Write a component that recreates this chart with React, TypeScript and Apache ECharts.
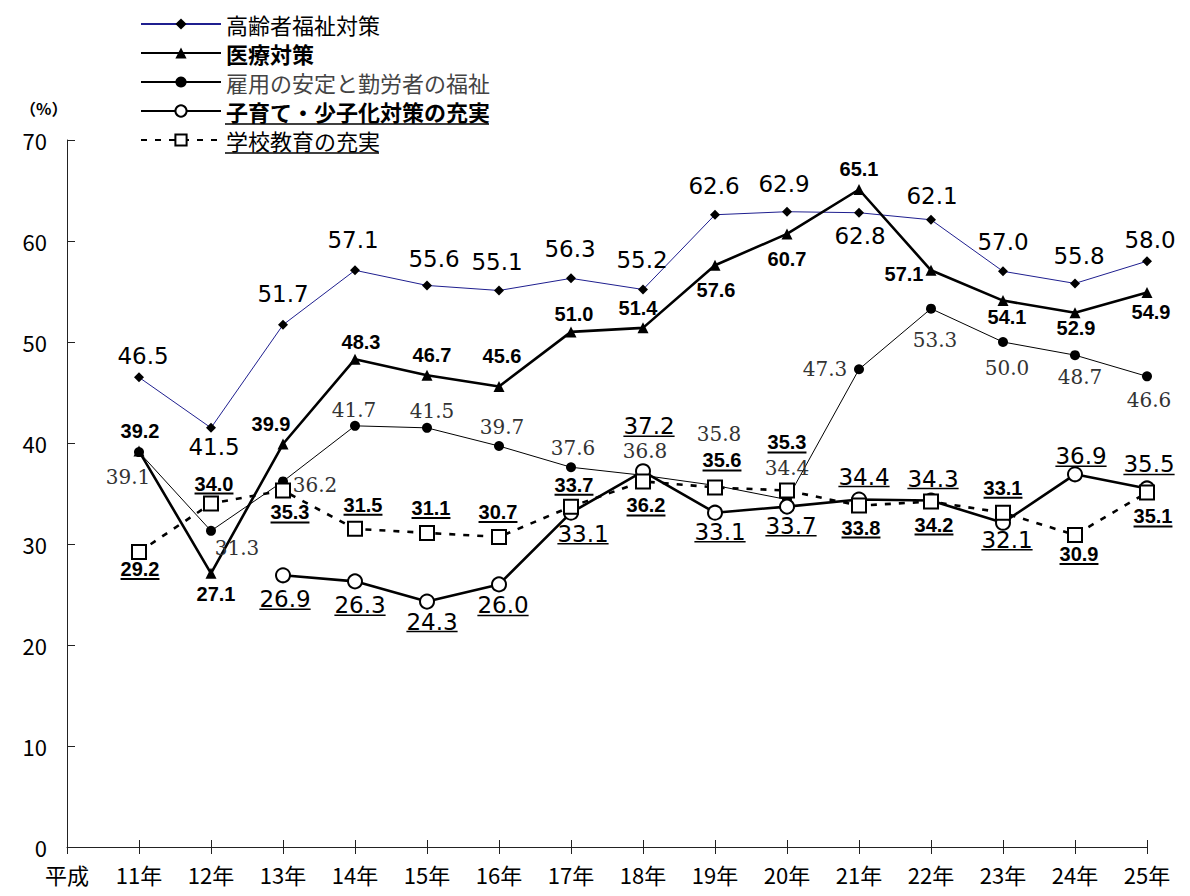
import React, { useEffect, useRef } from "react";
import * as echarts from "echarts";

// ---------- data ----------
const categories = ["平成", "11年", "12年", "13年", "14年", "15年", "16年", "17年", "18年", "19年", "20年", "21年", "22年", "23年", "24年", "25年"];

const seriesNames = ["高齢者福祉対策", "医療対策", "雇用の安定と勤労者の福祉", "子育て・少子化対策の充実", "学校教育の充実"];

const elderly = [46.5, 41.5, 51.7, 57.1, 55.6, 55.1, 56.3, 55.2, 62.6, 62.9, 62.8, 62.1, 57.0, 55.8, 58.0];
const medical = [39.2, 27.1, 39.9, 48.3, 46.7, 45.6, 51.0, 51.4, 57.6, 60.7, 65.1, 57.1, 54.1, 52.9, 54.9];
const employment = [39.1, 31.3, 36.2, 41.7, 41.5, 39.7, 37.6, 36.8, 35.8, 34.4, 47.3, 53.3, 50.0, 48.7, 46.6];
const childcare = [null, null, 26.9, 26.3, 24.3, 26.0, 33.1, 37.2, 33.1, 33.7, 34.4, 34.3, 32.1, 36.9, 35.5];
const school = [29.2, 34.0, 35.3, 31.5, 31.1, 30.7, 33.7, 36.2, 35.6, 35.3, 33.8, 34.2, 33.1, 30.9, 35.1];

// ---------- label placement (pixel offsets from the point) ----------
const elderlyOff = [[4, -21], [3, 19], [0, -31], [-2, -30], [7, -26], [-2, -28], [-1, -29], [-1, -29], [-1, -29], [-3, -28], [1, 23], [1, -24], [0, -29], [4, -27], [3, -21]];
const medicalOff = [[1, -20], [5, 21], [-12, -20], [6, -17], [5, -20], [3, -30], [3, -18], [-5, -20], [1, 25], [0, 25], [0, -20], [-27, 4], [4, 16], [1, 15], [4, 19]];
const employOff = [[-11, 25], [26, 17], [32, 4], [-1, -16], [5, -17], [3, -19], [2, -19], [2, -24], [4, -51], [0, -32], [-34, 0], [4, 31], [4, 26], [5, 22], [2, 24]];
const childOff = [[0, 0], [0, 0], [2, 24], [5, 24], [5, 20], [4, 21], [12, 21], [6, -45], [5, 19], [4, 19], [5, -23], [2, -22], [4, 17], [6, -18], [2, -24]];
const schoolOff = [[1, 17], [3, -20], [7, 22], [8, -24], [4, -25], [-1, -25], [3, -22], [3, 24], [7, -27], [0, -48], [2, 22], [3, 23], [0, -25], [4, 19], [6, 24]];

// ---------- fonts ----------
const CJK = '"Noto Sans CJK JP", "Noto Sans", sans-serif';
const AXIS_FONT = '"Liberation Sans Narrow", "Noto Sans CJK JP", sans-serif';
const SANS_NUM = '"DejaVu Sans", sans-serif';
const BOLD_NUM = '"Liberation Sans", Arial, sans-serif';
const SERIF_NUM = '"DejaVu Serif", serif';

let measureCtx: CanvasRenderingContext2D | null = null;
function measure(text: string, font: string): number {
  if (!measureCtx) {
    const c = document.createElement("canvas");
    measureCtx = c.getContext("2d");
  }
  if (!measureCtx) return text.length * 10;
  measureCtx.font = font;
  return measureCtx.measureText(text).width;
}

function withGap(vals: (number | null)[]) {
  return [null, ...vals];
}

function labelSeries(
  id: string,
  vals: (number | null)[],
  offs: number[][],
  size: number,
  family: string,
  weight: string,
  color: string,
  underline: boolean,
  ulWidth: number
) {
  const data: number[][] = [];
  vals.forEach((v, i) => {
    if (v !== null && v !== undefined) data.push([i + 1, v]);
  });
  const font = `${weight} ${size}px ${family}`;
  return {
    type: "custom",
    id,
    silent: true,
    clip: false,
    z: 10,
    data,
    renderItem: (params: any, api: any) => {
      const idx = api.value(0);
      const v = api.value(1);
      const p = api.coord([idx, v]);
      const off = offs[idx - 1] || [0, 0];
      const cx = p[0] + off[0];
      const cy = p[1] + off[1];
      const txt = Number(v).toFixed(1);
      const children: any[] = [
        {
          type: "text",
          x: cx,
          y: cy,
          style: {
            text: txt,
            fill: color,
            fontSize: size,
            fontFamily: family,
            fontWeight: weight,
            align: "center",
            verticalAlign: "middle",
          },
        },
      ];
      if (underline) {
        const w = measure(txt, font);
        children.push({
          type: "line",
          shape: { x1: cx - w / 2, y1: cy + 10, x2: cx + w / 2, y2: cy + 10 },
          style: { stroke: color, lineWidth: ulWidth },
        });
      }
      return { type: "group", children };
    },
  };
}

export default function App() {
  const ref = useRef<HTMLDivElement>(null);

  useEffect(() => {
    if (!ref.current) return;
    const chart = echarts.init(ref.current, undefined, { renderer: "svg" });

    const legendSize = 22;
    const legendTextX = 225;
    const wChild = measure(seriesNames[3], `bold ${legendSize}px ${CJK}`);
    const wSchool = measure(seriesNames[4], `normal ${legendSize}px ${CJK}`);

    const option: any = {
      animation: false,
      backgroundColor: "#ffffff",
      grid: { left: 67, right: 43, top: 140, bottom: 49, containLabel: false },
      legend: {
        orient: "vertical",
        left: 140,
        top: 13,
        padding: 0,
        itemWidth: 80,
        itemHeight: 14,
        itemGap: 7,
        selectedMode: false,
        textStyle: { fontSize: legendSize, lineHeight: 22, fontFamily: CJK, color: "#000" },
        data: [
          { name: seriesNames[0], textStyle: { fontWeight: "normal", color: "#000" } },
          { name: seriesNames[1], textStyle: { fontWeight: "bold", color: "#000" } },
          { name: seriesNames[2], textStyle: { fontWeight: "normal", color: "#444" } },
          { name: seriesNames[3], textStyle: { fontWeight: "bold", color: "#000" } },
          { name: seriesNames[4], textStyle: { fontWeight: "normal", color: "#000" } },
        ],
      },
      graphic: [
        {
          type: "text",
          left: 20,
          top: 100,
          style: { text: "（%）", fontSize: 16, fontFamily: CJK, fontWeight: "bold", fill: "#000" },
        },
        {
          type: "line",
          shape: { x1: legendTextX, y1: 124, x2: legendTextX + wChild, y2: 124 },
          style: { stroke: "#000", lineWidth: 1.5 },
        },
        {
          type: "line",
          shape: { x1: legendTextX, y1: 153, x2: legendTextX + wSchool, y2: 153 },
          style: { stroke: "#000", lineWidth: 1.5 },
        },
      ],
      xAxis: [
        {
          type: "category",
          position: "bottom",
          boundaryGap: false,
          data: categories,
          axisLine: { show: true, lineStyle: { color: "#222", width: 1 } },
          axisTick: { show: true, inside: false, length: 7, lineStyle: { color: "#222" } },
          axisLabel: { interval: 0, margin: 16, fontSize: 22, fontFamily: AXIS_FONT, color: "#000" },
          splitLine: { show: false },
        },
        {
          type: "category",
          position: "bottom",
          boundaryGap: false,
          data: categories,
          axisLine: { show: false },
          axisTick: { show: true, inside: true, length: 7, lineStyle: { color: "#222" } },
          axisLabel: { show: false },
          splitLine: { show: false },
        },
      ],
      yAxis: {
        type: "value",
        min: 0,
        max: 70,
        interval: 10,
        axisLine: { show: true, lineStyle: { color: "#222", width: 1 } },
        axisTick: { show: true, inside: true, length: 8, lineStyle: { color: "#222" } },
        axisLabel: { margin: 20, fontSize: 22, fontFamily: AXIS_FONT, color: "#000" },
        splitLine: { show: false },
      },
      series: [
        {
          name: seriesNames[0],
          type: "line",
          data: withGap(elderly),
          symbol: "diamond",
          symbolSize: 10,
          lineStyle: { color: "#1f1f8f", width: 1 },
          itemStyle: { color: "#000" },
          z: 2,
        },
        {
          name: seriesNames[1],
          type: "line",
          data: withGap(medical),
          symbol: "triangle",
          symbolSize: 11,
          lineStyle: { color: "#000", width: 2.6 },
          itemStyle: { color: "#000" },
          z: 3,
        },
        {
          name: seriesNames[2],
          type: "line",
          data: withGap(employment),
          symbol: "circle",
          symbolSize: 10,
          lineStyle: { color: "#000", width: 1 },
          itemStyle: { color: "#000" },
          z: 4,
        },
        {
          name: seriesNames[3],
          type: "line",
          data: withGap(childcare),
          symbol: "emptyCircle",
          symbolSize: 14,
          lineStyle: { color: "#000", width: 2.6 },
          itemStyle: { color: "#000", borderColor: "#000", borderWidth: 2 },
          z: 5,
        },
        {
          name: seriesNames[4],
          type: "line",
          data: withGap(school),
          symbol: "emptyRect",
          symbolSize: 14,
          lineStyle: { color: "#000", width: 2.6, type: [6, 8] },
          itemStyle: { color: "#000", borderColor: "#000", borderWidth: 2 },
          z: 6,
        },
        labelSeries("lbl-elderly", elderly, elderlyOff, 23, SANS_NUM, "normal", "#000", false, 1),
        labelSeries("lbl-medical", medical, medicalOff, 20, BOLD_NUM, "bold", "#000", false, 1),
        labelSeries("lbl-employ", employment, employOff, 20, SERIF_NUM, "normal", "#333", false, 1),
        labelSeries("lbl-child", childcare, childOff, 23, SANS_NUM, "normal", "#000", true, 1.5),
        labelSeries("lbl-school", school, schoolOff, 20, BOLD_NUM, "bold", "#000", true, 2),
      ],
    };

    chart.setOption(option);
    return () => {
      chart.dispose();
    };
  }, []);

  return (
    <div
      ref={ref}
      style={{ position: "absolute", left: 0, top: 0, width: 1190, height: 896, background: "#fff" }}
    />
  );
}
